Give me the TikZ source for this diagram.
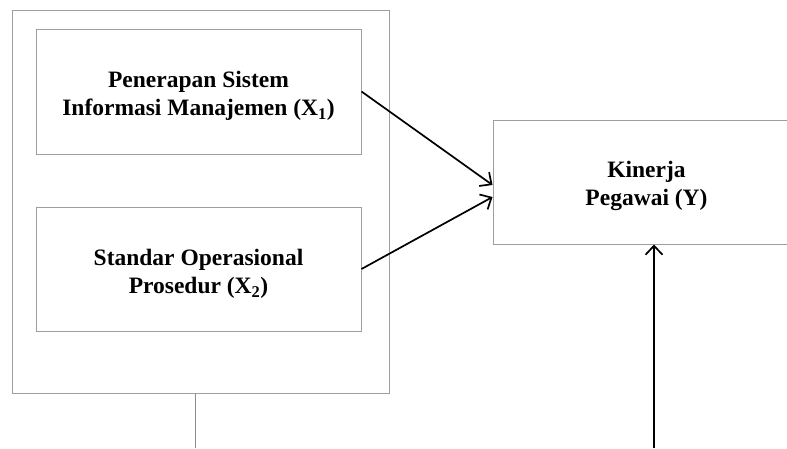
\documentclass[tikz,border=0pt]{standalone}
\usepackage{fontspec}
\setmainfont{Liberation Serif}
\usetikzlibrary{arrows.meta}
\begin{document}
\begin{tikzpicture}[x=1pt,y=-1pt,
  box/.style={draw=black!38,line width=1pt,inner sep=0pt},
  txt/.style={inner sep=0pt,align=center,
    font=\fontsize{23.5}{28.5}\selectfont\bfseries},
  conn/.style={line width=1.7pt,-{Straight Barb[length=9pt,width=17pt,line width=1.7pt]}},
  plain/.style={draw=black!45,line width=1pt}]
\clip (0,0) rectangle (787,448);
\useasboundingbox (0,0) rectangle (787,448);
\node[box,minimum width=377pt,minimum height=383pt] (outer) at (200.5,201.5) {};
\node[box,minimum width=325pt,minimum height=125pt] (x1) at (198.5,91.5) {};
\node[txt] (x1t) at ([yshift=-4.5pt]x1.center)
  {Penerapan Sistem\\Informasi Manajemen (X\textsubscript{1})};
\node[box,minimum width=325pt,minimum height=124pt] (x2) at (198.5,269) {};
\node[txt] (x2t) at ([yshift=-5pt]x2.center)
  {Standar Operasional\\Prosedur (X\textsubscript{2})};
\node[box,minimum width=307pt,minimum height=124pt] (y) at (646.5,182) {};
\node[txt] (yt) at ([yshift=-4pt]y.center) {Kinerja\\Pegawai (Y)};
\coordinate (b1) at (195,448);
\coordinate (b2) at (654,448);
\draw[conn] (x1.east) -- ([yshift=-3pt]y.west);
\draw[conn] (x2.east) -- ([yshift=-15pt]y.west);
\draw[plain] (outer.south -| b1) -- (b1);
\draw[conn] (b2) -- (y.south -| b2);
\end{tikzpicture}
\end{document}
